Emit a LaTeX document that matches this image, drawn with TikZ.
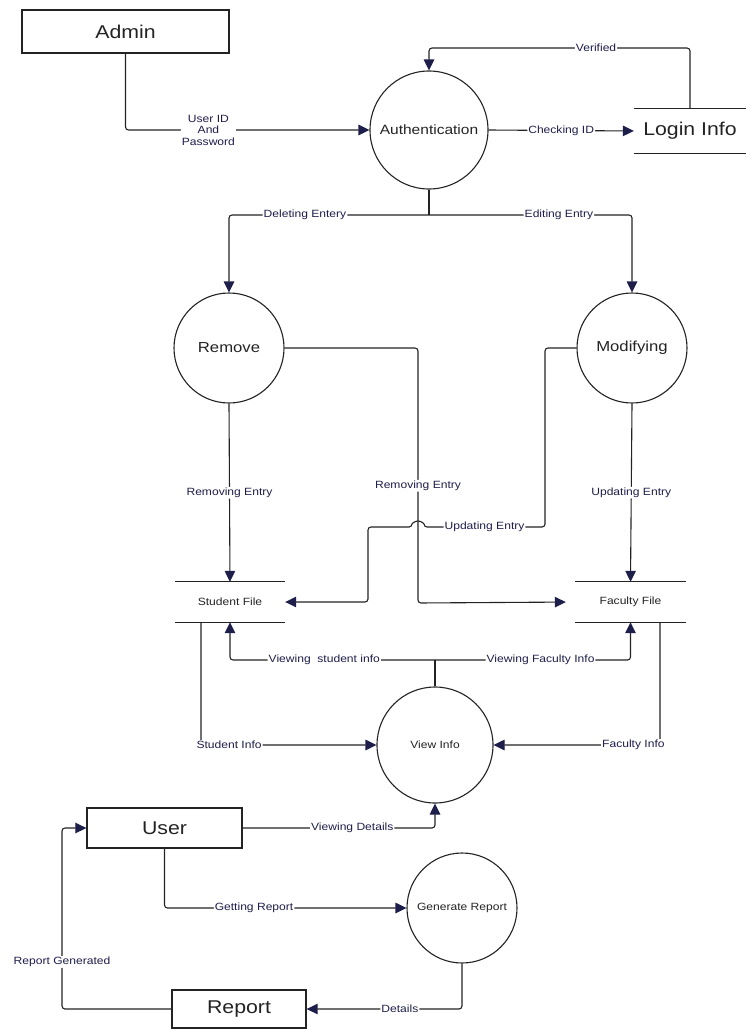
\documentclass[tikz,border=0pt]{standalone}
\usepackage{fontspec}
\setmainfont{Liberation Sans}[FakeStretch=1.15]
\usetikzlibrary{arrows.meta}

\definecolor{navy}{RGB}{30,30,75}
\definecolor{inkgray}{RGB}{35,35,35}

\newcommand{\entfont}{\fontsize{18.5}{20}\selectfont}
\newcommand{\procfont}{\fontsize{14.5}{16}\selectfont}
\newcommand{\lblfont}{\fontsize{10.5}{11.5}\selectfont}

\tikzset{
  entity/.style={draw=inkgray, line width=1.3pt, inner sep=0pt, font=\entfont, text=inkgray},
  process/.style={circle, draw=inkgray, line width=1.1pt, inner sep=0pt, text=inkgray},
  store/.style={inner sep=0pt, text=inkgray},
  storeline/.style={draw=inkgray, line width=1.3pt},
  flow/.style={draw=inkgray, line width=1.1pt, rounded corners=3pt, -{Triangle[length=11pt,width=10.5pt,color=navy]}},
  lbl/.style={fill=white, inner sep=1pt, font=\lblfont, text=navy},
}

\begin{document}
\begin{tikzpicture}[x=1pt, y=-1pt]
  \useasboundingbox (0,0) rectangle (746,1030);

  % external entities
  \node[entity, minimum width=207pt, minimum height=43pt] (admin) at (125.5,31.5) {Admin};
  \node[entity, minimum width=155pt, minimum height=40pt] (user) at (164.5,828) {User};
  \node[entity, minimum width=134pt, minimum height=38pt] (report) at (239,1009) {Report};

  % processes
  \node[process, minimum size=118pt, font=\fontsize{13.5}{15}\selectfont] (auth) at (429,130) {Authentication};
  \node[process, minimum size=110pt, font=\procfont] (remove) at (229,348) {Remove};
  \node[process, minimum size=110pt, font=\procfont] (modify) at (632,348) {Modifying};
  \node[process, minimum size=116pt, font=\lblfont] (view) at (435,745) {View Info};
  \node[process, minimum size=110pt, font=\lblfont] (gen) at (462,908) {Generate Report};

  % data stores
  \node[store, minimum width=112pt, minimum height=44pt, font=\entfont] (login) at (690,131) {Login Info};
  \node[store, minimum width=110pt, minimum height=40pt, font=\lblfont] (sfile) at (230,602) {Student File};
  \node[store, minimum width=111pt, minimum height=40pt, font=\lblfont] (ffile) at (630.5,602) {Faculty File};
  \foreach \s in {login,sfile,ffile}
    \draw[storeline] (\s.north west) -- (\s.north east) (\s.south west) -- (\s.south east);

  % bend points
  \coordinate (vtop) at (429,48);
  \coordinate (asplit) at (429,215);
  \coordinate (rmc) at (418,603);
  \coordinate (up1) at (545,527);
  \coordinate (up2) at (424,527);
  \coordinate (vsplit) at (435,660);
  \coordinate (sfout) at (201,622);
  \coordinate (ffout) at (660,622);
  \coordinate (rgc) at (62,828);

  % login
  \draw[flow] (admin.south) |- node[lbl, pos=0.67, align=center] {User ID\\And\\Password} (auth.west);
  \draw[flow] (auth.east) -- node[lbl] {Checking ID} (login.west);
  \draw[flow] (login.north) |- node[lbl, pos=0.68] {Verified} (vtop) -- (auth.north);

  % edit / delete
  \draw[draw=inkgray, line width=1.1pt] (auth.south) -- (asplit);
  \draw[flow] (asplit) -| node[lbl, pos=0.31] {Deleting Entery} (remove.north);
  \draw[flow] (asplit) -| node[lbl, pos=0.32] {Editing Entry} (modify.north);
  \draw[flow] (remove.south) -- node[lbl] {Removing Entry} (sfile.north);
  \draw[flow] (modify.south) -- node[lbl] {Updating Entry} (ffile.north);
  \draw[flow, shorten >=9pt] (remove.east) -| node[lbl, pos=0.77] {Removing Entry} (rmc) -- (ffile.west);
  \draw[flow] (modify.west) -| (up1) -- node[lbl] {Updating Entry} (up2)
    arc (0:-180:6) -- (368,527) |- (sfile.east);

  % viewing
  \draw[draw=inkgray, line width=1.1pt] (view.north) -- (vsplit);
  \draw[flow] (vsplit) -| node[lbl, pos=0.27] {Viewing\ \ student info} (sfile.south);
  \draw[flow] (vsplit) -| node[lbl, pos=0.27] {Viewing Faculty Info} (ffile.south);
  \draw[flow] (sfout) |- node[lbl, pos=0.58] {Student Info} (view.west);
  \draw[flow] (ffout) |- node[lbl, pos=0.58] {Faculty Info} (view.east);

  % user side
  \draw[flow] (user.east) -| node[lbl, pos=0.285] {Viewing Details} (view.south);
  \draw[flow] (user.south) |- node[lbl, pos=0.685] {Getting Report} (gen.west);
  \draw[flow] (gen.south) |- node[lbl, pos=0.7] {Details} (report.east);
  \draw[flow] (report.west) -| node[lbl, pos=0.63] {Report Generated} (rgc) -- (user.west);
\end{tikzpicture}
\end{document}
